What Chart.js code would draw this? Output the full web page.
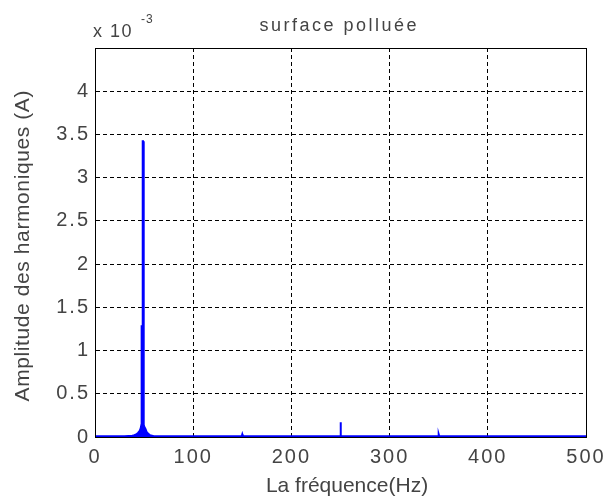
<!DOCTYPE html>
<html>
<head>
<meta charset="utf-8">
<script src="https://cdn.jsdelivr.net/npm/chart.js@4/dist/chart.umd.min.js"></script>
<style>
html,body{margin:0;padding:0;background:#fff;}
#wrap{width:606px;height:501px;position:relative;}
</style>
</head>
<body>
<div id="wrap"><canvas id="c" width="606" height="501"></canvas></div>
<script>
// Frequency (Hz) and amplitude (x 1e-3 A)
const freqs = [0, 10, 20, 30, 38, 40, 42, 44, 45.5, 46.5, 47.2, 47.5, 48.2, 48.6, 48.9, 49.4, 49.8, 50.5, 51.5, 52.5, 54, 56, 58, 60, 80, 100, 120, 149.5, 150, 150.5, 180, 200, 230, 249.5, 250, 250.5, 280, 300, 330, 349.5, 350, 350.5, 380, 400, 450, 500];
const amps  = [0.01, 0.01, 0.01, 0.01, 0.015, 0.02, 0.03, 0.05, 0.07, 0.1, 0.14, 1.28, 1.28, 3.42, 3.42, 0.2, 0.14, 0.11, 0.09, 0.06, 0.04, 0.02, 0.015, 0.01, 0.01, 0.01, 0.01, 0.01, 0.03, 0.01, 0.01, 0.01, 0.01, 0.01, 0.17, 0.01, 0.01, 0.01, 0.01, 0.01, 0.03, 0.01, 0.01, 0.01, 0.01, 0.01];
const xTicks = [0, 100, 200, 300, 400, 500];
const yTicks = [0, 0.5, 1, 1.5, 2, 2.5, 3, 3.5, 4];
const titleText = "surface polluée";
const xLabel = "La fréquence(Hz)";
const yLabel = "Amplitude des harmoniques (A)";

const FONT = "'Liberation Sans', Arial, sans-serif";
const TXT = "#444444";

function spaced(ctx, text, x, y, sp) {
  ctx.letterSpacing = sp + 'px';
  ctx.fillText(text, x + (ctx.textAlign === 'center' ? sp / 2 : 0), y);
}

const extras = {
  id: 'extras',
  beforeDraw(chart) { chart.ctx.letterSpacing = '2px'; },
  afterDraw(chart) {
    const ctx = chart.ctx, a = chart.chartArea;
    ctx.save();
    ctx.strokeStyle = '#000';
    ctx.lineWidth = 1;
    ctx.setLineDash([]);
    ctx.strokeRect(Math.round(a.left) + 0.5, Math.round(a.top) + 0.5, Math.round(a.right - a.left), Math.round(a.bottom - a.top));
    ctx.fillStyle = TXT;
    ctx.textBaseline = 'middle';
    ctx.textAlign = 'center';
    ctx.font = "18px " + FONT;
    spaced(ctx, titleText, 338, 26, 2.5);
    ctx.font = "21px " + FONT;
    spaced(ctx, xLabel, 347, 486, 0);
    ctx.save();
    ctx.translate(23, 246);
    ctx.rotate(-Math.PI / 2);
    spaced(ctx, yLabel, 0, 0, 0.6);
    ctx.restore();
    ctx.textAlign = 'left';
    ctx.font = "18px " + FONT;
    spaced(ctx, "x 10", 93, 32, 1.5);
    ctx.font = "12px " + FONT;
    spaced(ctx, "-3", 141, 20, 1);
    ctx.restore();
  }
};

new Chart(document.getElementById('c'), {
  type: 'line',
  data: {
    datasets: [{
      data: freqs.map((f, i) => ({x: f, y: amps[i]})),
      borderColor: '#0000ff',
      backgroundColor: '#0000ff',
      borderWidth: 2,
      pointRadius: 0,
      fill: 'origin',
      tension: 0
    }]
  },
  options: {
    responsive: false,
    animation: false,
    layout: {padding: {top: 48, right: 20, left: 0, bottom: 0}},
    plugins: {legend: {display: false}, tooltip: {enabled: false}, title: {display: false}},
    scales: {
      x: {
        type: 'linear', min: 0, max: 500,
        afterBuildTicks: s => { s.ticks = xTicks.map(v => ({value: v})); },
        afterFit: s => { s.height = 64; s.paddingLeft = 0; s.paddingRight = 0; },
        grid: {color: '#000', lineWidth: 1, drawTicks: false},
        border: {display: true, color: '#000', dash: [4, 3], width: 1},
        ticks: {color: TXT, font: {family: FONT, size: 20}, padding: 8, maxRotation: 0, autoSkip: false},
        title: {display: false}
      },
      y: {
        type: 'linear', min: 0, max: 4.5,
        afterBuildTicks: s => { s.ticks = yTicks.map(v => ({value: v})); },
        afterFit: s => { s.width = 95; s.paddingTop = 0; s.paddingBottom = 0; },
        grid: {color: '#000', lineWidth: 1, drawTicks: false},
        border: {display: true, color: '#000', dash: [4, 3], width: 1},
        ticks: {color: TXT, font: {family: FONT, size: 20}, padding: 5, callback: v => String(v), autoSkip: false},
        title: {display: false}
      }
    }
  },
  plugins: [extras]
});
</script>
</body>
</html>
